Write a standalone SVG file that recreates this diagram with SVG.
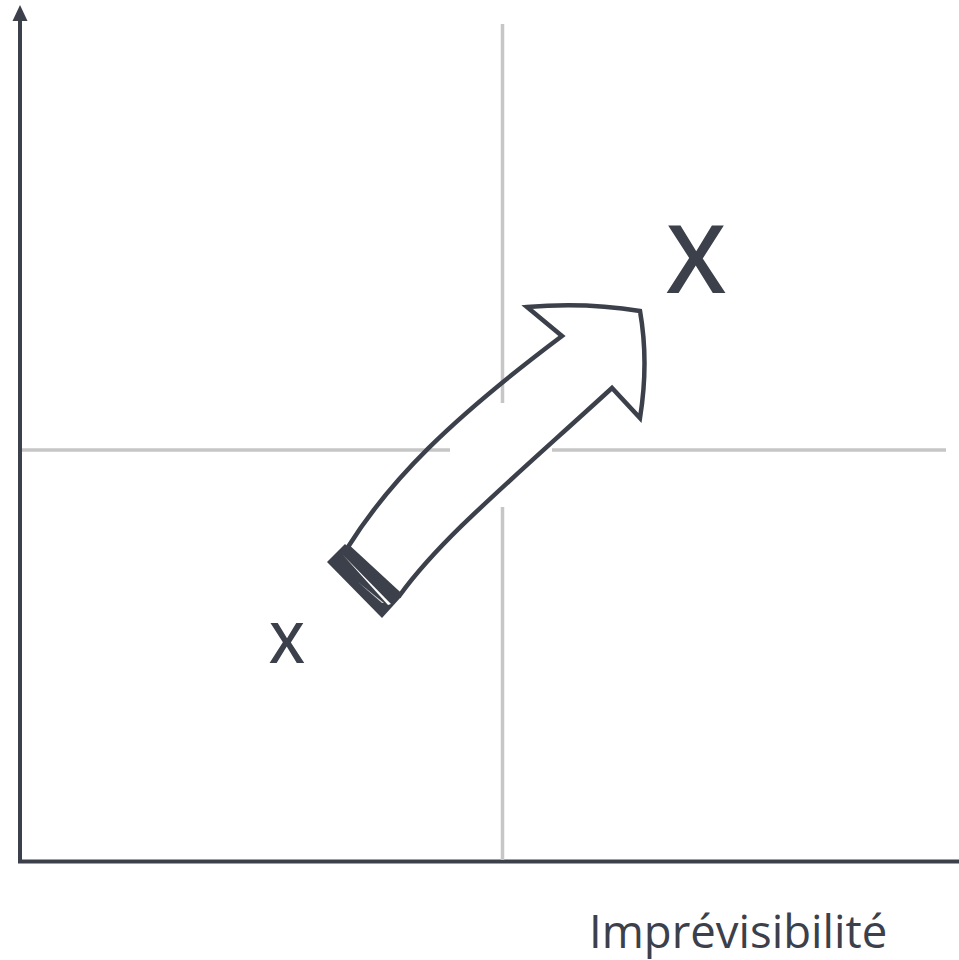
<svg xmlns="http://www.w3.org/2000/svg" width="959" height="960" viewBox="0 0 959 960">
<style>
.grid{stroke:#c6c6c6;stroke-width:3.5;fill:none}
.axis{stroke:#3c404b;stroke-width:4;fill:none}
.ink{stroke:#3c404b;stroke-width:4.5;stroke-linejoin:miter;fill:none}
.lbl{font-family:"Open Sans","Noto Sans","Liberation Sans",sans-serif;fill:#3c404b}
</style>
<defs>
<path id="arrowShape" d="M562,336 L527,307 Q585,302 640,311 Q649,362 640,418 L612,388 C500,490 440,540 400,595 L348,547 C390,480 450,420 562,336 Z"/>
</defs>
<rect width="959" height="960" fill="#ffffff"/>
<g id="axes">
<line class="axis" x1="20" y1="18" x2="20" y2="863"/>
<line class="axis" x1="18" y1="861.5" x2="959" y2="861.5"/>
<polygon points="20,5 12.5,21 27.5,21" fill="#3c404b"/>
</g>
<g id="big-arrow">
<use href="#arrowShape" fill="#ffffff"/>
<g id="grid">
<line class="grid" x1="502.5" y1="24" x2="502.5" y2="403"/>
<line class="grid" x1="502.5" y1="507" x2="502.5" y2="860"/>
<line class="grid" x1="22" y1="450" x2="450" y2="450"/>
<line class="grid" x1="552" y1="450" x2="946" y2="450"/>
</g>
<use href="#arrowShape" class="ink"/>
<polygon points="345,544 327,562 382,618 401,597" fill="#3c404b"/>
<path d="M343,555 L391,604 L388,605 Z" fill="#ffffff"/>
<path d="M358,582 L384,603 L382,603 Z" fill="#ffffff" opacity="0.8"/>
</g>
<g id="labels">
<text class="lbl" x="696" y="293" font-size="95" font-weight="600" text-anchor="middle">X</text>
<text class="lbl" x="287" y="663" font-size="56" font-weight="600" text-anchor="middle">X</text>
<text class="lbl" x="589" y="948" font-size="45.5">Imprévisibilité</text>
</g>
</svg>
